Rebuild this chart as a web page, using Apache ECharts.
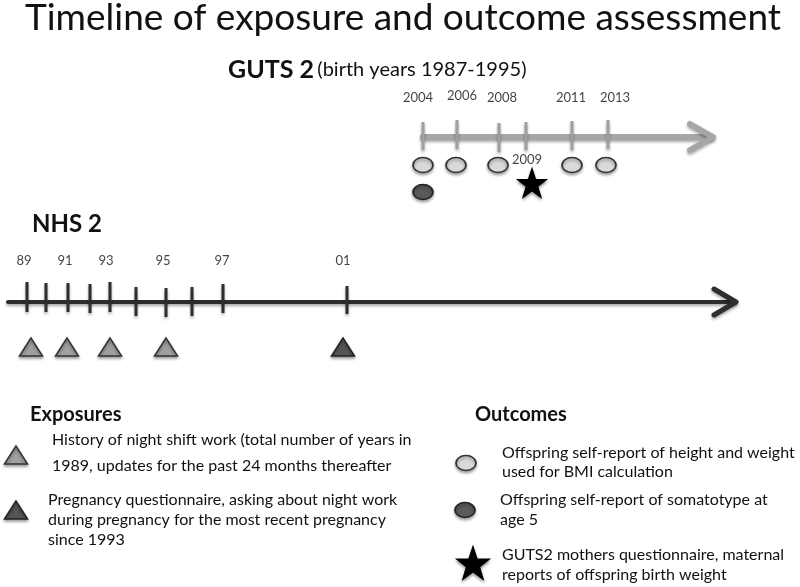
<!DOCTYPE html>
<html>
<head>
<meta charset="utf-8">
<script src="https://cdn.jsdelivr.net/npm/echarts@6/dist/echarts.min.js"></script>
<style>html,body{margin:0;padding:0;background:#fff}#c{width:800px;height:587px}</style>
</head>
<body>
<div id="c"></div>
<script>
// ---- data (diagram positions; x = position along timeline, y = row level) ----
const gutsYears = ['2004', '2006', '2008', '2009', '2011', '2013'];
const gutsTickX = [423, 457, 499, 526, 572, 608];
const gutsTickTop = [122, 120, 123, 122, 121, 120];
const gutsTickBot = [150, 149, 152, 150, 150, 149];
const gutsLabelYears = ['2004', '2006', '2008', '2011', '2013'];
const gutsLabelX = [418, 462, 502, 571, 615];
const gutsLabelY = [98, 96, 98, 98, 98];
const bmiCircleX = [423, 456, 498, 572, 606];
const somatotypeX = [423];
const birthWeightX = [532];

const nhsYears = ['89', '91', '93', '95', '97', '01'];
const nhsLabelX = [24, 65, 106, 163, 222, 343];
const nhsTickX = [27, 46, 68, 90, 110, 136, 166, 192, 223, 347];
const nhsTickTop = [282, 283, 283, 284, 282, 287, 288, 287, 284, 286];
const nhsTickBot = [312, 312, 312, 313, 312, 316, 317, 316, 313, 314];
const shiftWorkX = [31, 67, 110, 166];
const pregnancyX = [343];

const exposuresText = [
  'History of night shift work (total number of years in\n1989, updates for the past 24 months thereafter',
  'Pregnancy questionnaire, asking about night work\nduring pregnancy for the most recent pregnancy\nsince 1993'
];
const outcomesText = [
  'Offspring self-report of height and weight\nused for BMI calculation',
  'Offspring self-report of somatotype at\nage 5',
  'GUTS2 mothers questionnaire, maternal\nreports of offspring birth weight'
];

// ---- styling ----
const FONT = 'Lato';
const STAR = 'path://M50 0 L62 35 L98 35 L69 57 L80 92 L50 71 L20 92 L31 57 L2 35 L38 35 Z';
const shadow = {shadowColor: 'rgba(0,0,0,0.35)', shadowBlur: 3, shadowOffsetY: 2};

const chart = echarts.init(document.getElementById('c'), null, {renderer: 'canvas'});

function tickSeries(xs, tops, bots, color, width) {
  return {
    type: 'custom', silent: true, z: 3,
    data: xs.map((x, i) => [x, tops[i], bots[i]]),
    renderItem: function (params, api) {
      const a = api.coord([api.value(0), api.value(1)]);
      const b = api.coord([api.value(0), api.value(2)]);
      return {type: 'line', shape: {x1: a[0], y1: a[1], x2: b[0], y2: b[1]},
        style: Object.assign({stroke: color, lineWidth: width}, shadow)};
    }
  };
}

function lineSeries(points, color, width, z) {
  return {
    type: 'line', data: points, symbol: 'none', silent: true, z: z || 2,
    lineStyle: Object.assign({color: color, width: width, cap: 'round', join: 'round'}, shadow)
  };
}

function labelSeries(xs, ys, texts, fontSize, weight) {
  return {
    type: 'scatter', symbolSize: 0, silent: true, z: 5,
    data: xs.map((x, i) => ({value: [x, Array.isArray(ys) ? ys[i] : ys], name: texts[i]})),
    label: {show: true, position: 'inside', formatter: p => p.name,
      fontFamily: FONT, fontSize: fontSize, fontWeight: weight || 'normal', color: '#111'}
  };
}

function markerSeries(xs, y, symbol, size, fill, border) {
  return {
    type: 'scatter', symbol: symbol, symbolSize: size, silent: true, z: 4,
    data: xs.map(x => [x, y]),
    itemStyle: Object.assign({color: fill, borderColor: border, borderWidth: 1.5, opacity: 1}, shadow)
  };
}

const legendText = (x, y, text, lh) => ({
  type: 'text', x: x, y: y,
  style: {text: text, font: '16px ' + FONT, fill: '#111', lineHeight: lh, textVerticalAlign: 'top'}
});

const option = {
  animation: false,
  backgroundColor: '#fff',
  grid: {left: 0, right: 0, top: 0, bottom: 0},
  xAxis: {type: 'value', min: 0, max: 800, show: false},
  yAxis: {type: 'value', min: 0, max: 587, inverse: true, show: false},
  series: [
    // GUTS 2 timeline (gray arrow)
    lineSeries([[423, 137], [711, 137]], '#a6a6a6', 6),
    lineSeries([[690, 124], [713, 137], [690, 150]], '#a6a6a6', 6),
    tickSeries(gutsTickX, gutsTickTop, gutsTickBot, '#a0a0a0', 3),
    labelSeries(gutsLabelX, gutsLabelY, gutsLabelYears, 13),
    labelSeries([527], [160], ['2009'], 13),
    markerSeries(bmiCircleX, 165, 'circle', [20, 15], '#d9d9d9', '#333'),
    markerSeries(somatotypeX, 192, 'circle', [20, 15], '#5a5a5a', '#222'),
    markerSeries(birthWeightX, 183, STAR, 28, '#000', '#000'),
    // NHS 2 timeline (dark arrow)
    lineSeries([[8, 302], [735, 302]], '#2e2e2e', 4),
    lineSeries([[714, 289], [736, 302], [714, 315]], '#2e2e2e', 5),
    tickSeries(nhsTickX, nhsTickTop, nhsTickBot, '#2e2e2e', 3),
    labelSeries(nhsLabelX, 261, nhsYears, 13),
    markerSeries(shiftWorkX, 347, 'triangle', [23, 18], '#a0a0a0', '#333'),
    markerSeries(pregnancyX, 347, 'triangle', [23, 18], '#555', '#222'),
    // legend symbols
    markerSeries([16], 455, 'triangle', [23, 18], '#a0a0a0', '#333'),
    markerSeries([16], 510, 'triangle', [23, 18], '#555', '#222'),
    markerSeries([466], 463, 'circle', [20, 15], '#d9d9d9', '#333'),
    markerSeries([465], 510, 'circle', [20, 15], '#5a5a5a', '#222'),
    markerSeries([473], 563, STAR, 32, '#000', '#000')
  ],
  graphic: [
    {type: 'text', x: 403, y: 18, style: {text: 'Timeline of exposure and outcome assessment',
      font: '37px ' + FONT, fill: '#111', textAlign: 'center', textVerticalAlign: 'middle'}},
    {type: 'text', x: 228, y: 70, style: {text: '{b|GUTS 2} {n|(birth years 1987-1995)}',
      textVerticalAlign: 'middle', rich: {
        b: {fontFamily: FONT, fontSize: 25, fontWeight: 'bold', fill: '#111'},
        n: {fontFamily: FONT, fontSize: 20, fill: '#111'}}}},
    {type: 'text', x: 32, y: 224, style: {text: 'NHS 2', font: 'bold 24px ' + FONT, fill: '#111', textVerticalAlign: 'middle'}},
    {type: 'text', x: 30, y: 415, style: {text: 'Exposures', font: 'bold 20px ' + FONT, fill: '#111', textVerticalAlign: 'middle'}},
    {type: 'text', x: 475, y: 415, style: {text: 'Outcomes', font: 'bold 20px ' + FONT, fill: '#111', textVerticalAlign: 'middle'}},
    legendText(52, 427, exposuresText[0], 26),
    legendText(48, 490, exposuresText[1], 20),
    legendText(502, 443, outcomesText[0], 19),
    legendText(500, 490, outcomesText[1], 20),
    legendText(502, 545, outcomesText[2], 20)
  ]
};
chart.setOption(option);
</script>
</body>
</html>
